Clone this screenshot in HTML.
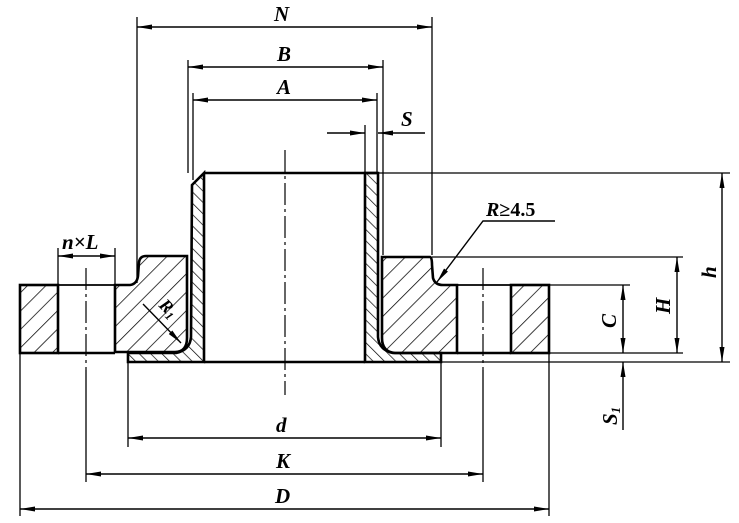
<!DOCTYPE html>
<html><head><meta charset="utf-8"><style>
html,body{margin:0;padding:0;background:#fff;}
svg{display:block;}
text{font-family:"Liberation Serif",serif;font-style:italic;font-weight:bold;font-size:21px;fill:#000;}
</style></head><body>
<svg width="739" height="523" viewBox="0 0 739 523" xmlns="http://www.w3.org/2000/svg">
<defs>
<pattern id="hw" patternUnits="userSpaceOnUse" width="13" height="13" patternTransform="rotate(45)">
<line x1="0" y1="0" x2="0" y2="13" stroke="#000" stroke-width="1.5"/></pattern>
<pattern id="hn" patternUnits="userSpaceOnUse" width="8" height="8" patternTransform="rotate(-45)">
<line x1="0" y1="0" x2="0" y2="8" stroke="#000" stroke-width="1.4"/></pattern>
<marker id="ar" markerWidth="16" markerHeight="7" refX="15" refY="3.5" orient="auto" markerUnits="userSpaceOnUse">
<path d="M0,1 L15,3.5 L0,6 z" fill="#000"/></marker>
</defs>
<g stroke="#000" fill="none">
<rect x="20" y="285" width="38" height="68" fill="url(#hw)" stroke-width="2.6"/>
<path d="M115,285 L130,285 Q137,284 138,276 L139,262 Q140,256 146,256 L187,256 L187,338 Q187,352 175,352 L115,352 Z" fill="url(#hw)" stroke-width="2.6"/>
<path d="M204,173 L192,185 L191,337 Q190,350 176,353 L128,353 L128,362 L204,362 Z" fill="url(#hn)" stroke-width="2.6"/>
<path d="M365,173 L378,173 L378,337 Q379,350 393,353 L441,353 L441,362 L365,362 Z" fill="url(#hn)" stroke-width="2.6"/>
<path d="M382,257 L430,257 Q432,257 432,265 L433,278 Q435,285 443,285 L457,285 L457,353 L395,353 Q382,352 382,338 Z" fill="url(#hw)" stroke-width="2.6"/>
<rect x="511" y="285" width="38" height="68" fill="url(#hw)" stroke-width="2.6"/>
<line x1="204" y1="173" x2="378" y2="173" stroke-width="2.6"/>
<line x1="58" y1="285" x2="115" y2="285" stroke-width="1.8"/>
<line x1="58" y1="353" x2="115" y2="353" stroke-width="2.4"/>
<line x1="457" y1="285" x2="511" y2="285" stroke-width="1.8"/>
<line x1="457" y1="353" x2="511" y2="353" stroke-width="2.4"/>
<line x1="204" y1="362" x2="365" y2="362" stroke-width="2.6"/>
<g stroke-width="1.2" stroke-dasharray="22,4,3,4">
<line x1="285" y1="150" x2="285" y2="395"/>
<line x1="86" y1="268" x2="86" y2="370"/>
<line x1="483" y1="268" x2="483" y2="370"/>
</g>
<g stroke-width="1.3">
<line x1="137" y1="17" x2="137" y2="283"/>
<line x1="432" y1="17" x2="432" y2="255"/>
<line x1="188" y1="60" x2="188" y2="173"/>
<line x1="383" y1="60" x2="383" y2="255"/>
<line x1="193" y1="93" x2="193" y2="180"/>
<line x1="377" y1="93" x2="377" y2="172"/>
<line x1="365" y1="125" x2="365" y2="172"/>
<line x1="378" y1="173" x2="730" y2="173"/>
<line x1="432" y1="257" x2="683" y2="257"/>
<line x1="549" y1="285" x2="630" y2="285"/>
<line x1="549" y1="353" x2="683" y2="353"/>
<line x1="441" y1="362" x2="730" y2="362"/>
<line x1="58" y1="248" x2="58" y2="285"/>
<line x1="115" y1="248" x2="115" y2="285"/>
<line x1="128" y1="362" x2="128" y2="447"/>
<line x1="441" y1="362" x2="441" y2="447"/>
<line x1="86" y1="370" x2="86" y2="482"/>
<line x1="483" y1="370" x2="483" y2="482"/>
<line x1="20" y1="353" x2="20" y2="516"/>
<line x1="549" y1="353" x2="549" y2="516"/>
</g>
<g stroke-width="1.4">
<line x1="285" y1="27" x2="137" y2="27" marker-end="url(#ar)"/>
<line x1="285" y1="27" x2="432" y2="27" marker-end="url(#ar)"/>
<line x1="285" y1="67" x2="188" y2="67" marker-end="url(#ar)"/>
<line x1="285" y1="67" x2="383" y2="67" marker-end="url(#ar)"/>
<line x1="285" y1="100" x2="193" y2="100" marker-end="url(#ar)"/>
<line x1="285" y1="100" x2="377" y2="100" marker-end="url(#ar)"/>
<line x1="327" y1="133" x2="365" y2="133" marker-end="url(#ar)"/>
<line x1="425" y1="133" x2="378" y2="133" marker-end="url(#ar)"/>
<line x1="86" y1="256" x2="58" y2="256" marker-end="url(#ar)"/>
<line x1="86" y1="256" x2="115" y2="256" marker-end="url(#ar)"/>
<line x1="285" y1="438" x2="128" y2="438" marker-end="url(#ar)"/>
<line x1="285" y1="438" x2="441" y2="438" marker-end="url(#ar)"/>
<line x1="285" y1="474" x2="86" y2="474" marker-end="url(#ar)"/>
<line x1="285" y1="474" x2="483" y2="474" marker-end="url(#ar)"/>
<line x1="285" y1="509" x2="20" y2="509" marker-end="url(#ar)"/>
<line x1="285" y1="509" x2="549" y2="509" marker-end="url(#ar)"/>
<line x1="722" y1="268" x2="722" y2="173" marker-end="url(#ar)"/>
<line x1="722" y1="268" x2="722" y2="362" marker-end="url(#ar)"/>
<line x1="677" y1="305" x2="677" y2="257" marker-end="url(#ar)"/>
<line x1="677" y1="305" x2="677" y2="353" marker-end="url(#ar)"/>
<line x1="623" y1="320" x2="623" y2="285" marker-end="url(#ar)"/>
<line x1="623" y1="320" x2="623" y2="353" marker-end="url(#ar)"/>
<line x1="623" y1="430" x2="623" y2="362" marker-end="url(#ar)"/>
<line x1="143" y1="304" x2="181" y2="343" marker-end="url(#ar)"/>
<polyline points="555,221 483,221 437,282" marker-end="url(#ar)"/>
</g>
</g>
<text x="274" y="21">N</text>
<text x="277" y="61">B</text>
<text x="277" y="94">A</text>
<text x="401" y="126">S</text>
<text x="62" y="249">n×L</text>
<text x="276" y="432">d</text>
<text x="276" y="468">K</text>
<text x="275" y="503">D</text>
<text x="486" y="216" style="font-size:20px">R<tspan style="font-style:normal">≥4.5</tspan></text>
<text transform="translate(158,306) rotate(45)" style="font-size:18px">R<tspan style="font-size:12px" dy="3">1</tspan></text>
<text transform="translate(716,278) rotate(-90)">h</text>
<text transform="translate(670,314) rotate(-90)">H</text>
<text transform="translate(616,328) rotate(-90)">C</text>
<text transform="translate(617,425) rotate(-90)">S<tspan style="font-size:13px" dy="3">1</tspan></text>
</svg>
</body></html>
